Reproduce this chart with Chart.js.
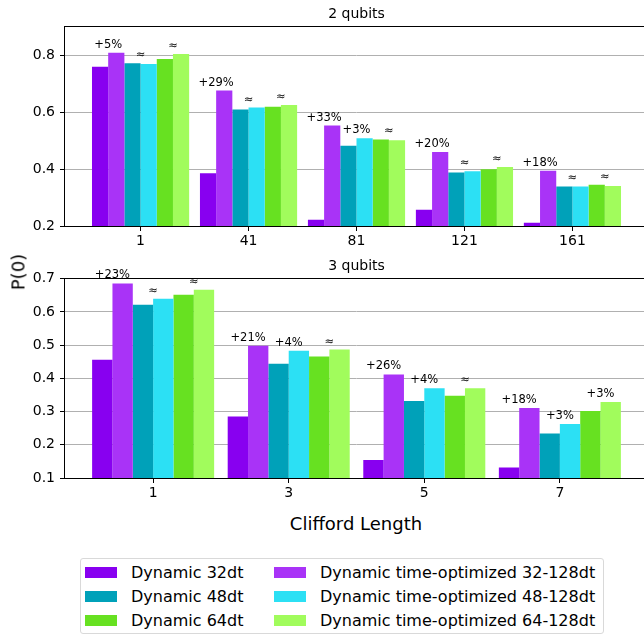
<!DOCTYPE html>
<html>
<head>
<meta charset="utf-8">
<script src="https://cdn.jsdelivr.net/npm/chart.js@4.4.1/dist/chart.umd.min.js"></script>
<style>
  html, body { margin: 0; padding: 0; background: #fff; overflow: hidden; width: 644px; height: 635px; }
  body { position: relative; font-family: "DejaVu Sans", sans-serif; color: #000; }
  .plot { position: absolute; left: 0; width: 650px; height: 250px; }
  .axis-label { position: absolute; font-size: 18px; white-space: nowrap; transform: translate(-50%, -50%); }
  #ylabel { left: 18px; top: 272px; transform: translate(-50%, -50%) rotate(-90deg); }
  #xlabel { left: 356px; top: 523px; }
  #legend { position: absolute; left: 80px; top: 558px; width: 522px; height: 74px;
            border: 1px solid #d9d9d9; border-radius: 3px; }
  .item { position: absolute; height: 20px; display: flex; align-items: center; font-size: 16px; white-space: nowrap; }
  .swatch { width: 32px; height: 11px; margin-right: 14px; }
</style>
</head>
<body>
<div class="plot" style="top:0"><canvas id="top" width="650" height="250"></canvas></div>
<div class="plot" style="top:252px"><canvas id="bottom" width="650" height="250"></canvas></div>
<div id="ylabel" class="axis-label">P(0)</div>
<div id="xlabel" class="axis-label">Clifford Length</div>
<div id="legend"></div>

<script>
// series (same order in both panels)
const seriesLabels = ['Dynamic 32dt', 'Dynamic time-optimized 32-128dt', 'Dynamic 48dt',
  'Dynamic time-optimized 48-128dt', 'Dynamic 64dt', 'Dynamic time-optimized 64-128dt'];
const seriesColors = ['#8800f0', '#a933f7', '#00a1b9', '#2ce0f4', '#67e121', '#a1fc5c'];

// 2 qubits
const lengths2q = ['1', '41', '81', '121', '161'];
const d32_2q  = [0.760, 0.385, 0.222, 0.257, 0.211];
const to32_2q = [0.809, 0.676, 0.553, 0.460, 0.394];
const d48_2q  = [0.772, 0.609, 0.482, 0.388, 0.339];
const to48_2q = [0.769, 0.616, 0.508, 0.392, 0.339];
const d64_2q  = [0.787, 0.619, 0.504, 0.399, 0.345];
const to64_2q = [0.804, 0.625, 0.501, 0.407, 0.341];
const notes2q = [['+5%', '≈', '≈'], ['+29%', '≈', '≈'], ['+33%', '+3%', '≈'], ['+20%', '≈', '≈'], ['+18%', '≈', '≈']];
const yTicks2q = [0.2, 0.4, 0.6, 0.8];

// 3 qubits
const lengths3q = ['1', '3', '5', '7'];
const d32_3q  = [0.456, 0.285, 0.154, 0.132];
const to32_3q = [0.686, 0.498, 0.412, 0.311];
const d48_3q  = [0.622, 0.444, 0.332, 0.234];
const to48_3q = [0.640, 0.483, 0.370, 0.263];
const d64_3q  = [0.652, 0.466, 0.348, 0.302];
const to64_3q = [0.667, 0.487, 0.370, 0.329];
const notes3q = [['+23%', '≈', '≈'], ['+21%', '+4%', '≈'], ['+26%', '+4%', '≈'], ['+18%', '+3%', '+3%']];
const yTicks3q = [0.1, 0.2, 0.3, 0.4, 0.5, 0.6, 0.7];

const FONT = '"DejaVu Sans", sans-serif';

function makeChart(id, cats, series, yMin, yMax, yTicks, xMin, xMax, title, notes) {
  // spines + "+x%" / "≈" labels over each pair of bars
  const extras = {
    id: 'extras',
    afterDatasetsDraw(chart) {
      const ctx = chart.ctx;
      const a = chart.chartArea;
      ctx.save();
      ctx.strokeStyle = '#000';
      ctx.lineWidth = 1;
      ctx.strokeRect(Math.round(a.left) - 0.5, Math.round(a.top) - 0.5,
        Math.round(a.right - a.left) + 1, Math.round(a.bottom - a.top) + 1);

      ctx.font = '11.5px ' + FONT;
      ctx.fillStyle = '#000';
      ctx.textAlign = 'center';
      ctx.textBaseline = 'alphabetic';
      notes.forEach((row, j) => {
        row.forEach((txt, k) => {
          const b1 = chart.getDatasetMeta(2 * k).data[j];
          const b2 = chart.getDatasetMeta(2 * k + 1).data[j];
          ctx.fillText(txt, (b1.x + b2.x) / 2, Math.min(b1.y, b2.y) - 5);
        });
      });
      ctx.restore();
    }
  };

  return new Chart(document.getElementById(id), {
    type: 'bar',
    data: {
      datasets: series.map((vals, i) => ({
        label: seriesLabels[i],
        data: vals.map((v, j) => ({ x: j, y: v })),
        backgroundColor: seriesColors[i],
        borderWidth: 0,
        categoryPercentage: 0.9,
        barPercentage: 1.0
      }))
    },
    options: {
      responsive: false,
      animation: false,
      devicePixelRatio: 1,
      layout: { padding: { left: 0, right: 2, top: 0, bottom: 0 } },
      plugins: {
        legend: { display: false },
        tooltip: { enabled: false },
        title: {
          display: true, text: title, fullSize: false, color: '#000',
          font: { family: FONT, size: 14, weight: 'normal' },
          padding: { top: 6, bottom: 4 }
        }
      },
      scales: {
        x: {
          type: 'linear', min: xMin, max: xMax, offset: false,
          afterBuildTicks: s => { s.ticks = cats.map((c, i) => ({ value: i })); },
          afterFit: s => { s.height = 24; },
          ticks: {
            callback: v => cats[v], color: '#000', padding: 2,
            autoSkip: false, maxRotation: 0, font: { family: FONT, size: 14 }
          },
          grid: { offset: false, drawOnChartArea: false, drawTicks: true, tickLength: 5, tickColor: '#000' },
          border: { display: false }
        },
        y: {
          min: yMin, max: yMax,
          afterBuildTicks: s => { s.ticks = yTicks.map(v => ({ value: v })); },
          afterFit: s => { s.width = 65; },
          ticks: { callback: v => v.toFixed(1), color: '#000', padding: 5, font: { family: FONT, size: 14 } },
          grid: { color: '#b0b0b0', lineWidth: 1, tickLength: 5, tickColor: '#000' },
          border: { display: false }
        }
      }
    },
    plugins: [extras]
  });
}

const chartTop = makeChart('top', lengths2q, [d32_2q, to32_2q, d48_2q, to48_2q, d64_2q, to64_2q],
  0.2, 0.9, yTicks2q, -0.70, 4.70, '2 qubits', notes2q);
makeChart('bottom', lengths3q, [d32_3q, to32_3q, d48_3q, to48_3q, d64_3q, to64_3q],
  0.1, 0.7, yTicks3q, -0.65, 3.65, '3 qubits', notes3q);

// shared legend, two columns, built from the chart's datasets
const legend = document.getElementById('legend');
chartTop.data.datasets.forEach((ds, i) => {
  const col = i % 2, row = Math.floor(i / 2);
  const item = document.createElement('div');
  item.className = 'item';
  item.style.left = (col ? 193 : 4) + 'px';
  item.style.top = (3 + row * 24) + 'px';
  const sw = document.createElement('span');
  sw.className = 'swatch';
  sw.style.background = ds.backgroundColor;
  item.appendChild(sw);
  item.appendChild(document.createTextNode(ds.label));
  legend.appendChild(item);
});
</script>
</body>
</html>
